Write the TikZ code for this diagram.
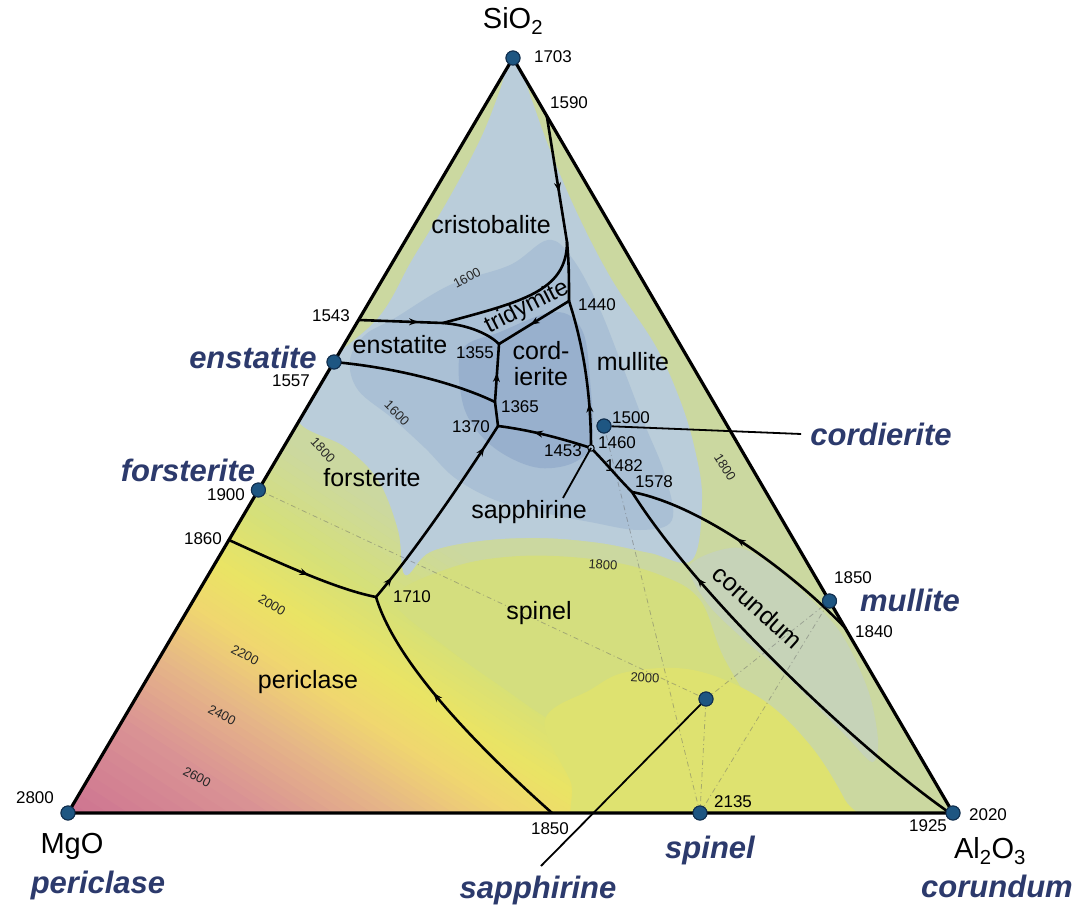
\documentclass[tikz,border=0pt]{standalone}
\usepackage{fontspec}
\setmainfont{Liberation Sans}
\usetikzlibrary{calc,decorations.markings,arrows.meta}

% field colours
\definecolor{baseG}{RGB}{203,216,160}
\definecolor{pkA}{RGB}{205,115,145}
\definecolor{pkB}{RGB}{218,148,148}
\definecolor{pkC}{RGB}{230,182,135}
\definecolor{pkD}{RGB}{240,214,112}
\definecolor{pkE}{RGB}{234,228,100}
\definecolor{pkF}{RGB}{214,224,120}
\definecolor{grnB}{RGB}{212,222,126}
\definecolor{ylwA}{RGB}{222,226,112}
\definecolor{corA}{RGB}{198,211,184}
\definecolor{bluA}{RGB}{186,205,218}
\definecolor{bluB}{RGB}{170,192,213}
\definecolor{bluC}{RGB}{152,176,205}
\definecolor{dotc}{RGB}{30,86,130}
\definecolor{dotd}{RGB}{18,48,80}
\definecolor{labc}{RGB}{44,58,108}

\tikzset{
  edge/.style={line width=3.2pt, line join=round},
  bound/.style={line width=2.6pt, line cap=round, line join=round},
  pointer/.style={line width=1.8pt},
  tie/.style={line width=0.8pt, draw=black!60, opacity=0.45, dash pattern=on 5pt off 3pt on 1pt off 3pt},
  dot/.style={circle, fill=dotc, draw=dotd, line width=1pt, minimum size=14pt, inner sep=0pt},
  field/.style={font=\fontsize{25}{26}\selectfont, inner sep=0pt},
  temp/.style={font=\fontsize{17}{19}\selectfont, inner sep=0pt},
  iso/.style={font=\fontsize{13}{15}\selectfont, inner sep=0pt, text=black!85},
  phase/.style={font=\fontsize{31}{35}\selectfont\bfseries\itshape, text=labc, inner sep=0pt},
  oxide/.style={font=\fontsize{29}{33}\selectfont, inner sep=0pt},
  flow/.style={postaction={decorate, decoration={markings,
      mark=at position #1 with {\arrow{Stealth[length=9pt,width=7pt]}}}}},
}

\begin{document}
\begin{tikzpicture}[x=1pt,y=-1pt]
\useasboundingbox (0,0) rectangle (1077,915);
\fill[white] (0,0) rectangle (1077,915);

% corners of the composition triangle
\coordinate (S) at (513,58);
\coordinate (M) at (68,813);
\coordinate (A) at (953,813);

% invariant points and boundary ends
\coordinate (q1590) at (546.8,116);
\coordinate (qCT) at (567,242);
\coordinate (q1440) at (569,301);
\coordinate (q1543) at (358.6,320);
\coordinate (qSplit) at (443,323);
\coordinate (q1355) at (499,344);
\coordinate (q1365) at (495,402);
\coordinate (q1370) at (498,426);
\coordinate (qJ) at (591,448);
\coordinate (q1578) at (632,492);
\coordinate (q1840) at (845.2,628);
\coordinate (q1710) at (376,597);
\coordinate (q1860) at (229,540);
\coordinate (q1850) at (552,813);
\coordinate (q1925) at (947,811);
\coordinate (qEn) at (334,362);
\coordinate (qFo) at (258.4,490);
\coordinate (qSapTip) at (563,498);
\coordinate (sEnd) at (541,866);

% ---------- liquidus colouring ----------
\begin{scope}
  \clip (S) -- (M) -- (A) -- cycle;
  \fill[baseG] (S) -- (M) -- (A) -- cycle;
  % isotherm bands around the MgO corner
  \begin{scope}[shift={(M)}, rotate=57]
    \fill[pkA] (-100,-900) rectangle (0.6,900);
    \foreach \na/\nb/\ca/\cb in {0/110/pkA/pkB,110/180/pkB/pkC,180/240/pkC/pkD,240/290/pkD/pkE,290/350/pkE/pkF,350/430/pkF/baseG}{
      \foreach \k in {0,...,9}{
        \pgfmathsetmacro\lo{\na+(\nb-\na)*\k/10}
        \pgfmathsetmacro\hi{\na+(\nb-\na)*(\k+1)/10+0.6}
        \pgfmathtruncatemacro\pc{10*\k+5}
        \fill[fill={\cb!\pc!\ca}] (\lo,-900) rectangle (\hi,900);
      }
    }
  \end{scope}
  % spinel field
  \fill[grnB] plot[smooth cycle, tension=0.6] coordinates {(395,600) (450,568) (520,556) (600,560) (660,575) (700,600) (725,660) (770,730) (830,800) (860,840) (640,840) (600,760) (520,700) (450,650)};
  \fill[ylwA] plot[smooth cycle, tension=0.6] coordinates {(545,720) (590,690) (627,672) (693,670) (760,698) (810,745) (845,800) (860,840) (600,840) (570,780)};
  % corundum field
  \fill[corA] plot[smooth cycle, tension=0.5] coordinates {(690,565) (740,548) (792,582) (840,632) (868,690) (878,740) (872,762) (845,735) (783,673) (740,636) (707,603)};
  % silica-rich fields
  \fill[bluA] plot[smooth cycle, tension=0.6] coordinates {(513,50) (530,95) (550,150) (578,215) (612,280) (655,345) (680,400) (695,450) (702,500) (692,560) (650,553) (600,543) (540,538) (480,541) (430,552) (405,575) (398,530) (378,480) (345,447) (298,420) (318,372) (378,318) (412,260) (448,200) (480,140) (500,90)};
  \fill[bluB] plot[smooth cycle, tension=0.6] coordinates {(395,318) (450,285) (510,265) (548,240) (572,258) (598,305) (622,365) (645,425) (665,475) (672,520) (640,530) (590,522) (540,512) (495,500) (455,478) (425,448) (392,418) (358,390) (350,360) (365,335)};
  \fill[bluC] plot[smooth cycle, tension=0.6] coordinates {(462,350) (500,332) (555,312) (582,330) (590,380) (592,440) (575,462) (540,468) (505,455) (478,432) (462,400)};
\end{scope}

% ---------- compound points ----------
\node[dot] (dSiO2) at (S) {};
\node[dot] (dMgO) at (M) {};
\node[dot] (dAl) at (A) {};
\node[dot] (dEn) at (qEn) {};
\node[dot] (dFo) at (qFo) {};
\node[dot] (dCord) at (604,426) {};
\node[dot] (dMul) at (829.5,601) {};
\node[dot] (dSapph) at (706,699) {};
\node[dot] (dSp) at (700,813) {};

% compatibility lines
\draw[tie] (dSp.center) -- (dMul.center);
\draw[tie] (dSp.center) -- (dSapph.center);
\draw[tie] (dSp.center) -- (dCord.center);
\draw[tie] (dSapph.center) -- (dMul.center);
\draw[tie] (dFo.center) -- (dSapph.center);

% ---------- field boundaries ----------
\draw[bound, flow=0.41] (q1590) -- (qCT) .. controls (569,262) and (569,280) .. (q1440);
\draw[bound, flow=0.3] (qJ) .. controls (591,400) and (585,350) .. (q1440);
\draw[bound, flow=0.41] (q1543) -- (qSplit) .. controls (470,325) and (490,335) .. (q1355);
\draw[bound] (qSplit) .. controls (520,302) and (567,292) .. (qCT);
\draw[bound, flow=0.55] (q1440) -- (q1355);
\draw[bound, flow=0.5] (q1365) -- (q1355);
\draw[bound] (qEn) .. controls (400,368) and (460,385) .. (q1365);
\draw[bound] (q1370) -- (q1365);
\draw[bound, flow=0.62] (qJ) .. controls (560,438) and (530,430) .. (q1370);
\draw[bound, flow=0.12, flow=0.88] (q1710) .. controls (420,545) and (470,470) .. (q1370);
\draw[bound, flow=0.55] (q1860) .. controls (290,568) and (340,590) .. (q1710);
\draw[bound, flow=0.6] (q1850) .. controls (470,740) and (395,660) .. (q1710);
\draw[bound] (qJ) .. controls (605,462) and (618,478) .. (q1578);
\draw[bound, flow=0.55] (q1840) .. controls (790,570) and (700,505) .. (q1578);
\draw[bound, flow=0.76] (q1925) .. controls (860,750) and (700,600) .. (q1578);
\draw[line width=1pt, fill=bluB] (qJ) circle (3.2);

% pointers
\draw[pointer] (qJ) -- (qSapTip);
\draw[pointer] (dSapph.center) -- (sEnd);

% triangle
\draw[edge] (S) -- (M) -- (A) -- cycle;

% redraw the compound points above the lines
\node[dot] at (S) {};
\node[dot] at (M) {};
\node[dot] at (A) {};
\node[dot] at (qEn) {};
\node[dot] at (qFo) {};
\node[dot] at (829.5,601) {};
\node[dot] at (700,813) {};

% ---------- labels ----------
\node[oxide] (tSiO2) at (513,21) {SiO\textsubscript{2}};
\node[oxide] (tMgO) at (72,846) {MgO};
\node[oxide] (tAl) at (990,851) {Al\textsubscript{2}O\textsubscript{3}};

\node[phase] (tEn) at (253,357) {enstatite};
\node[phase] (tFo) at (188,470) {forsterite};
\node[phase] (tCord) at (881,434) {cordierite};
\node[phase] (tMul) at (910,600) {mullite};
\node[phase] (tPer) at (98,885) {periclase};
\node[phase] (tSp) at (710,850) {spinel};
\node[phase] (tSapph) at (538,890) {sapphirine};
\node[phase] (tCor) at (997,886) {corundum};

\draw[pointer] (dCord) -- ([xshift=-9pt]tCord.west);
\node[dot] at (604,426) {};
\node[dot] at (706,699) {};

\node[field] (fCri) at (491,225) {cristobalite};
\node[field, rotate=27, font=\fontsize{24}{25}\selectfont] (fTri) at (527,307) {tridymite};
\node[field] (fEn) at (400,345) {enstatite};
\node[field, align=center] (fCord) at (541,364) {cord-\\ierite};
\node[field] (fMul) at (633,362) {mullite};
\node[field] (fFo) at (372,478) {forsterite};
\node[field] (fSapph) at (529,512) {sapphirine};
\node[field] (fSp) at (539,613) {spinel};
\node[field] (fPer) at (308,682) {periclase};
\node[field, rotate=-42] (fCor) at (758,607) {corundum};

% invariant temperatures
\node[temp] at (553,57) {1703};
\node[temp] at (569,103) {1590};
\node[temp] at (597,305) {1440};
\node[temp] at (331,316) {1543};
\node[temp] at (291,381) {1557};
\node[temp] at (226,495) {1900};
\node[temp] at (203,539) {1860};
\node[temp] at (35,798) {2800};
\node[temp] at (475,353) {1355};
\node[temp] at (520,407) {1365};
\node[temp] at (471,427) {1370};
\node[temp] at (631,418) {1500};
\node[temp] at (617,443) {1460};
\node[temp] at (563,451) {1453};
\node[temp] at (624,466) {1482};
\node[temp] at (654,482) {1578};
\node[temp] at (412,597) {1710};
\node[temp] at (853,578) {1850};
\node[temp] at (874,632) {1840};
\node[temp] at (733,802) {2135};
\node[temp] at (550,829) {1850};
\node[temp] at (928,826) {1925};
\node[temp] at (988,815) {2020};

% isotherm values
\node[iso, rotate=28] at (467,278) {1600};
\node[iso, rotate=-45] at (397,413) {1600};
\node[iso, rotate=-47] at (323,450) {1800};
\node[iso, rotate=-4] at (603,565) {1800};
\node[iso, rotate=-4] at (645,678) {2000};
\node[iso, rotate=-58] at (725,467) {1800};
\node[iso, rotate=-31] at (272,605) {2000};
\node[iso, rotate=-28] at (245,655) {2200};
\node[iso, rotate=-28] at (222,715) {2400};
\node[iso, rotate=-28] at (197,777) {2600};
\end{tikzpicture}
\end{document}
